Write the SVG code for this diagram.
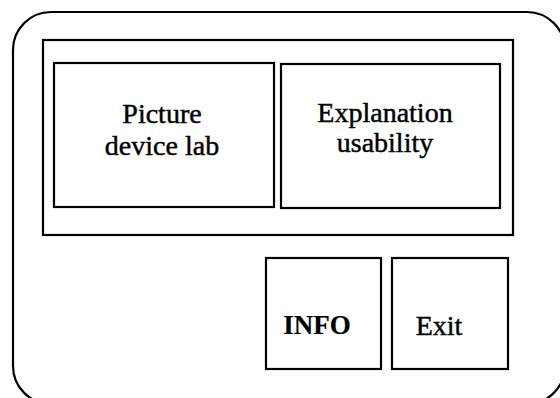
<svg xmlns="http://www.w3.org/2000/svg" width="560" height="398" viewBox="0 0 560 398">
<style>
.b{fill:#fff;stroke:#000;stroke-width:2.2}
.t{font-family:"Liberation Serif","Times New Roman",serif;font-size:28px;fill:#000;stroke:#000;stroke-width:0.45;text-anchor:middle}
</style>
<rect width="560" height="398" fill="#fff"/>
<g id="frame"><rect class="b" x="13" y="12" width="552" height="392" rx="38" ry="38"/></g>
<g id="container"><rect class="b" x="43" y="40" width="470" height="195"/></g>
<g id="picture"><rect class="b" x="54" y="63" width="220" height="144"/>
<text class="t" x="162" y="123">Picture</text><text class="t" x="162" y="155">device lab</text></g>
<g id="explanation"><rect class="b" x="281" y="64" width="219" height="144"/>
<text class="t" x="385" y="122">Explanation</text><text class="t" x="385" y="152">usability</text></g>
<g id="info"><rect class="b" x="266" y="258" width="115" height="111"/>
<text class="t" x="317" y="334" style="font-weight:bold;font-size:27px;stroke-width:0.2">INFO</text></g>
<g id="exit"><rect class="b" x="392" y="258" width="116" height="111"/>
<text class="t" x="439" y="335">Exit</text></g>
<g id="connectors"/>
</svg>
